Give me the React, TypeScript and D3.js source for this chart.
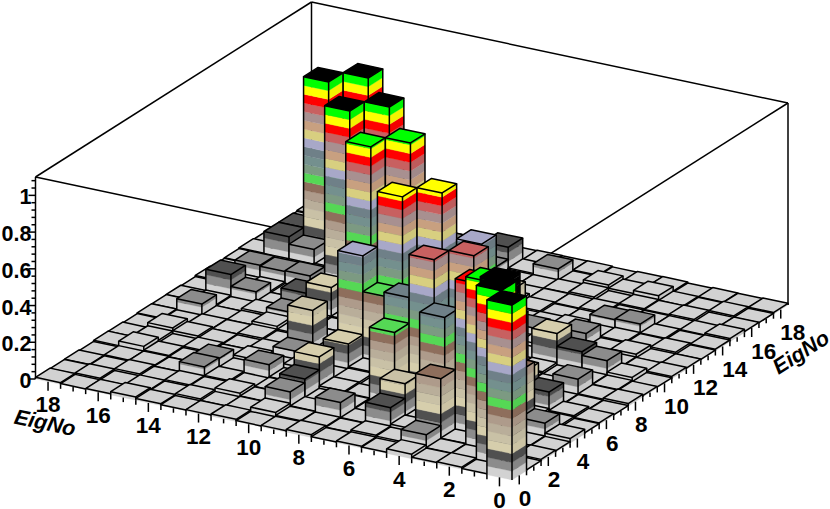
import React from "react";
import * as d3 from "d3";

const eigNo = d3.range(0, 19);
const zTicks = [0, 0.2, 0.4, 0.6, 0.8, 1];
const bandColors = ["#d2d2d2","#8c8c8c","#505050","#d6ceac","#c9c1a6","#b9ae9a","#ae9b8b","#8e6e5c","#55d855","#7c9a82","#74908e","#6f8088","#a8a8c8","#d8cf80","#c8a080","#a89090","#c86060","#ff0000","#ffff00","#00ff00","#000000"];
const zMaximum = 0.952;

// Upper triangle of the symmetric matrix in thousandths; row i lists j = i..18
const row0 = [952,5,12,8,25,6,10,4,15,8,5,12,7,5,10,18,6,4,9];
const row1 = [952,8,10,80,15,20,6,10,12,28,8,6,15,5,9,4,12,6];
const row2 = [920,12,335,30,120,8,90,14,90,10,25,8,12,6,14,5,8];
const row3 = [830,30,25,200,8,12,10,110,12,8,14,60,6,10,10,4];
const row4 = [8,540,30,400,15,22,180,14,80,10,55,8,14,35,10];
const row5 = [12,775,540,10,20,15,35,8,25,6,14,5,18,9];
const row6 = [20,15,10,25,150,12,50,14,6,10,20,35,5];
const row7 = [30,15,385,580,14,225,8,15,10,12,5,9];
const row8 = [25,880,12,15,8,14,30,10,6,65,8];
const row9 = [20,12,18,8,14,55,20,6,12,9];
const row10 = [25,10,14,170,110,8,60,125,6];
const row11 = [15,915,8,12,6,14,9,12];
const row12 = [30,12,12,75,70,75,5];
const row13 = [30,952,15,10,10,8];
const row14 = [35,10,90,130,12];
const row15 = [25,952,130,8];
const row16 = [20,15,9];
const row17 = [15,10];
const row18 = [15];
const rows = [row0,row1,row2,row3,row4,row5,row6,row7,row8,row9,row10,row11,row12,row13,row14,row15,row16,row17,row18];

// The one tall all-black cell behind the front pair that has no mirror partner
const loneCellX = 2;
const loneCellY = 3;
const loneCellValue = 870;

const value = (x: number, y: number) => {
  if (x === loneCellX && y === loneCellY) return loneCellValue / 1000;
  const a = Math.min(x, y), b = Math.max(x, y);
  return rows[a][b - a] / 1000;
};

const ox = 512, oy = 480;
const xToDx = d3.scaleLinear().domain([-0.5, 18.5]).range([0, -476.5]);
const xToDy = d3.scaleLinear().domain([-0.5, 18.5]).range([0, -101]);
const yToDx = d3.scaleLinear().domain([-0.5, 18.5]).range([0, 276]);
const yToDy = d3.scaleLinear().domain([-0.5, 18.5]).range([0, -175]);
const zToDy = d3.scaleLinear().domain([0, 1.1]).range([0, -202]);
const P = (x: number, y: number, z: number): [number, number] => [
  ox + xToDx(x) + yToDx(y),
  oy + xToDy(x) + yToDy(y) + zToDy(z),
];
const path = (pts: [number, number][]) => d3.line()(pts)! + "Z";
const seg = (a: [number, number], b: [number, number]) => d3.line()([a, b])!;
const darken = (c: string) => d3.rgb(c).darker(0.14).formatHex();

const step = zMaximum / 20;
const SW = 1.5;
const FONT = "'Liberation Sans', Arial, sans-serif";

function Bar({ x, y }: { x: number; y: number }) {
  const z = value(x, y);
  const x0 = x - 0.5, x1 = x + 0.5, y0 = y - 0.5, y1 = y + 0.5;
  const lone = x === loneCellX && y === loneCellY;
  const n = z >= zMaximum || lone ? 20 : Math.floor(z / step);
  const nb = Math.min(Math.floor(z / step) + 1, 20);
  const bands = d3.range(0, nb).map((i) => {
    const lo = i * step, hi = Math.min((i + 1) * step, z);
    return { i, lo, hi };
  });
  const top = bandColors[n];
  return (
    <g>
      {bands.map(({ i, lo, hi }) => {
        const left = lone ? "#000" : bandColors[i];
        const right = lone ? "#000" : darken(bandColors[i]);
        return (
          <g key={i}>
            <path d={path([P(x1, y0, lo), P(x0, y0, lo), P(x0, y0, hi), P(x1, y0, hi)])} fill={left} stroke={left} strokeWidth={0.3} />
            <path d={path([P(x0, y0, lo), P(x0, y1, lo), P(x0, y1, hi), P(x0, y0, hi)])} fill={right} stroke={right} strokeWidth={0.3} />
          </g>
        );
      })}
      <path d={path([P(x0, y0, z), P(x1, y0, z), P(x1, y1, z), P(x0, y1, z)])} fill={top} stroke="#000" strokeWidth={SW} strokeLinejoin="round" />
      <path d={seg(P(x1, y0, 0), P(x1, y0, z))} stroke="#000" strokeWidth={SW} fill="none" />
      <path d={seg(P(x0, y0, 0), P(x0, y0, z))} stroke="#000" strokeWidth={SW} fill="none" />
      <path d={seg(P(x0, y1, 0), P(x0, y1, z))} stroke="#000" strokeWidth={SW} fill="none" />
    </g>
  );
}

export default function App() {
  const zMax = 1.1;
  const minor = d3.range(0, 1.1001, 0.04);
  const xHalf = d3.range(0, 18.001, 0.5);
  const cells: [number, number][] = [];
  for (let x = 18; x >= 0; x--) for (let y = 18; y >= 0; y--) cells.push([x, y]);
  // the lone cell paints over its lower neighbour
  const li = cells.findIndex(([x, y]) => x === loneCellX && y === loneCellY);
  [cells[li], cells[li + 1]] = [cells[li + 1], cells[li]];
  const frame: [[number, number], [number, number]][] = [
    [P(18.5, -0.5, zMax), P(18.5, 18.5, zMax)],
    [P(18.5, 18.5, zMax), P(-0.5, 18.5, zMax)],
    [P(18.5, -0.5, zMax), P(-0.5, -0.5, zMax)],
    [P(-0.5, -0.5, zMax), P(-0.5, 18.5, zMax)],
    [P(18.5, 18.5, 0), P(18.5, 18.5, zMax)],
    [P(-0.5, 18.5, 0), P(-0.5, 18.5, zMax)],
    [P(18.5, -0.5, 0), P(18.5, -0.5, zMax)],
  ];
  const xL = P(18.5, -0.5, 0);
  const xTitle = [45, 423];
  const yTitle = [801, 352.5];
  return (
    <svg width={830} height={509} style={{ position: "absolute", left: 0, top: 0 }} fontFamily={FONT} fontWeight="bold">
      <rect width={830} height={509} fill="#fff" />
      {frame.map((f, i) => <path key={i} d={seg(f[0], f[1])} stroke="#000" strokeWidth={SW} fill="none" />)}
      {cells.map(([x, y]) => <Bar key={x + "-" + y} x={x} y={y} />)}
      {minor.map((t, i) => {
        const maj = i % 5 === 0;
        const y = P(18.5, -0.5, t)[1];
        return <line key={i} x1={xL[0]} x2={xL[0] - (maj ? 7 : 4)} y1={y} y2={y} stroke="#000" strokeWidth={SW} />;
      })}
      {zTicks.map((t) => (
        <text key={t} x={31.5} y={P(18.5, -0.5, t)[1] + 2} fontSize={21.5} textAnchor="end" dominantBaseline="central">{t}</text>
      ))}
      {xHalf.map((t, i) => {
        const [px, py] = P(t, -0.5, 0);
        return <line key={i} x1={px} x2={px} y1={py} y2={py + (i % 4 === 0 ? 9 : 4.5)} stroke="#000" strokeWidth={SW} />;
      })}
      {xHalf.map((t, i) => {
        const [px, py] = P(-0.5, t, 0);
        return <line key={i} x1={px} x2={px} y1={py} y2={py + (i % 4 === 0 ? 9 : 4.5)} stroke="#000" strokeWidth={SW} />;
      })}
      {eigNo.filter((v) => v % 2 === 0).map((v) => {
        const [px, py] = P(v, -0.5, 0);
        return <text key={v} x={px} y={py + 23} fontSize={22.5} textAnchor="middle" dominantBaseline="central">{v}</text>;
      })}
      {eigNo.filter((v) => v % 2 === 0).map((v) => {
        const [px, py] = P(-0.5, v, 0);
        return <text key={v} x={px - 0.5} y={py + 23} fontSize={22.5} textAnchor="start" dominantBaseline="central">{v}</text>;
      })}
      <text transform={`translate(${xTitle[0]},${xTitle[1]}) rotate(12)`} fontSize={21.5} fontStyle="italic" textAnchor="middle" dominantBaseline="central">EigNo</text>
      <text transform={`translate(${yTitle[0]},${yTitle[1]}) rotate(-32.4)`} fontSize={21.5} fontStyle="italic" textAnchor="middle" dominantBaseline="central">EigNo</text>
    </svg>
  );
}
